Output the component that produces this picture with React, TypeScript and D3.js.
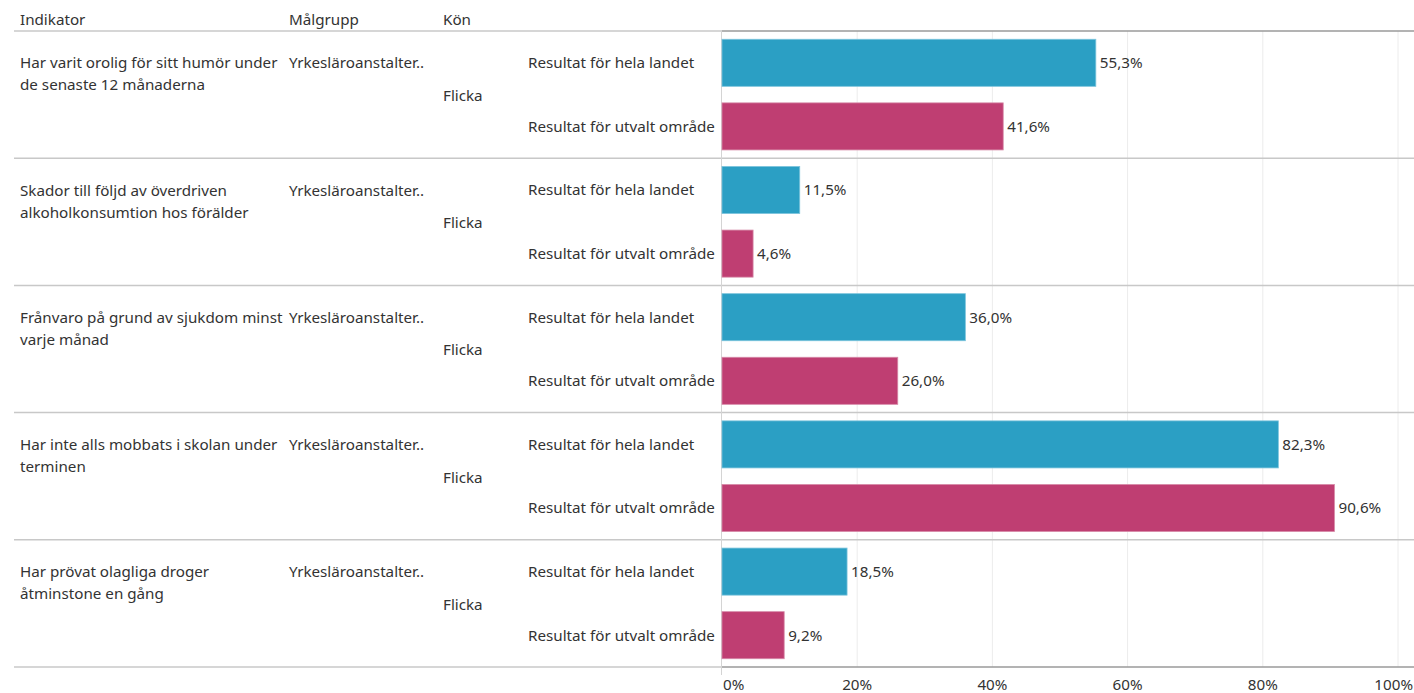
import React from "react";
import * as d3 from "d3";

const indicators = [
  "Har varit orolig för sitt humör under\nde senaste 12 månaderna",
  "Skador till följd av överdriven\nalkoholkonsumtion hos förälder",
  "Frånvaro på grund av sjukdom minst\nvarje månad",
  "Har inte alls mobbats i skolan under\nterminen",
  "Har prövat olagliga droger\nåtminstone en gång",
];
const malgrupp = ["Yrkesläroanstalter..", "Yrkesläroanstalter..", "Yrkesläroanstalter..", "Yrkesläroanstalter..", "Yrkesläroanstalter.."];
const kon = ["Flicka", "Flicka", "Flicka", "Flicka", "Flicka"];
const series = ["Resultat för hela landet", "Resultat för utvalt område"];
const helaLandet = [55.3, 11.5, 36.0, 82.3, 18.5];
const utvaltOmrade = [41.6, 4.6, 26.0, 90.6, 9.2];
const ticks = [0, 20, 40, 60, 80, 100];
const headers = ["Indikator", "Målgrupp", "Kön"];

const W = 1414;
const H = 693;
const FONT = "'Noto Sans', sans-serif";
const colors = ["#2b9fc4", "#bf3e72"];
const strokes = ["#7cc4dc", "#d68aa8"];

export default function App() {
  const top = 31;
  const bottom = 667;
  const x0 = 722;
  const x1 = 1398;
  const x = d3.scaleLinear().domain([0, 100]).range([x0, x1]);
  const rowY = d3.scaleBand<number>().domain(indicators.map((_, i) => i)).range([top, bottom]).padding(0);
  const rh = rowY.bandwidth();
  const inner = d3.scaleBand<number>().domain([0, 1]).range([0, rh]).paddingInner(0.26).paddingOuter(0.13);
  const values = [helaLandet, utvaltOmrade];
  const fmt = (v: number) => d3.format(".1f")(v).replace(".", ",") + "%";
  const textColor = "#333";
  const fs = 15.2;

  return (
    <svg width={W} height={H} style={{ position: "absolute", left: 0, top: 0, background: "#fff" }} fontFamily={FONT}>
      {headers.map((h, i) => (
        <text key={h} x={[20, 289, 443][i]} y={20} dy="0.35em" fontSize={fs} fill={textColor}>{h}</text>
      ))}
      {ticks.filter(t => t > 0).map(t => (
        <line key={t} x1={x(t)} x2={x(t)} y1={top} y2={bottom} stroke="#ececec" strokeWidth={1} />
      ))}
      {[...indicators.map((_, i) => rowY(i)!), bottom].map((yy, i) => (
        <g key={i}>
          <line x1={14} x2={x0} y1={yy} y2={yy} stroke="#c8c8c8" strokeWidth={1.5} />
          <line x1={x0} x2={W} y1={yy} y2={yy} stroke={i === 0 || i === indicators.length ? "#9a9a9a" : "#c8c8c8"} strokeWidth={1.5} />
        </g>
      ))}
      <line x1={x0 - 0.5} x2={x0 - 0.5} y1={top} y2={bottom + 8} stroke="#d4d4d4" strokeWidth={1} />
      {indicators.map((ind, i) => {
        const ry = rowY(i)!;
        const lines = ind.split("\n");
        return (
          <g key={i}>
            {lines.map((l, j) => (
              <text key={j} x={20} y={ry + 32 + j * 22} dy="0.35em" fontSize={fs} fill={textColor}>{l}</text>
            ))}
            <text x={289} y={ry + 32} dy="0.35em" fontSize={fs} fill={textColor}>{malgrupp[i]}</text>
            <text x={443} y={ry + rh / 2 + 1} dy="0.35em" fontSize={fs} fill={textColor}>{kon[i]}</text>
            {series.map((s, k) => {
              const by = ry + inner(k)!;
              const bh = inner.bandwidth();
              const v = values[k][i];
              return (
                <g key={s}>
                  <text x={528} y={by + bh / 2} dy="0.35em" fontSize={fs} fill={textColor}>{s}</text>
                  <rect x={x(0)} y={by} width={x(v) - x(0)} height={bh} fill={colors[k]} stroke={strokes[k]} strokeWidth={0.8} />
                  <text x={x(v) + 4} y={by + bh / 2} dy="0.35em" fontSize={fs} fill={textColor}>{fmt(v)}</text>
                </g>
              );
            })}
          </g>
        );
      })}
      {ticks.map(t => (
        <text key={t} x={t === 0 ? x(t) + 1 : t === 100 ? W - 1 : x(t)} y={685} dy="0.35em" fontSize={fs} fill={textColor} textAnchor={t === 0 ? "start" : t === 100 ? "end" : "middle"}>{t}%</text>
      ))}
    </svg>
  );
}
